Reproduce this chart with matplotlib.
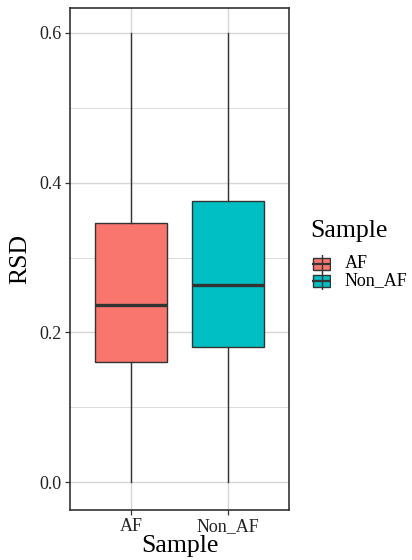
import matplotlib
matplotlib.use("Agg")
import matplotlib.pyplot as plt
from matplotlib.patches import Rectangle
from matplotlib.lines import Line2D

plt.rcParams['font.family'] = ['Liberation Serif', 'DejaVu Serif']

categories = ["AF", "Non_AF"]
whisker_low = [0.0, 0.0]
q1 = [0.160, 0.180]
median = [0.236, 0.263]
q3 = [0.346, 0.375]
whisker_high = [0.6, 0.6]
colors = ["#F8766D", "#00BFC4"]
yticks = [0.0, 0.2, 0.4, 0.6]
ytick_labels = ["0.0", "0.2", "0.4", "0.6"]
minor_yticks = [0.1, 0.3, 0.5]

W, H = 412, 560
fig = plt.figure(figsize=(W / 100, H / 100), dpi=100)
left, right, top, bottom = 70, 289, 8, 510
ax = fig.add_axes([left / W, 1 - bottom / H, (right - left) / W, (bottom - top) / H])

grid_c = "#d6d6d6"
for y in yticks:
    ax.axhline(y, color=grid_c, lw=1.0, zorder=0)
for y in minor_yticks:
    ax.axhline(y, color=grid_c, lw=0.6, zorder=0)
for x in [1, 2]:
    ax.axvline(x, color=grid_c, lw=1.0, zorder=0)

stats = []
for i, c in enumerate(categories):
    stats.append(dict(label=c, whislo=whisker_low[i], q1=q1[i], med=median[i],
                      q3=q3[i], whishi=whisker_high[i], fliers=[]))
bp = ax.bxp(stats, positions=[1, 2], widths=0.75, patch_artist=True, showcaps=False,
            boxprops=dict(edgecolor="#333333", linewidth=1.0),
            whiskerprops=dict(color="#333333", linewidth=1.0),
            medianprops=dict(color="#333333", linewidth=2.4, solid_capstyle="butt"),
            zorder=2)
for patch, col in zip(bp['boxes'], colors):
    patch.set_facecolor(col)

ax.set_xlim(0.37, 2.63)
ax.set_ylim(-0.037, 0.633)
ax.set_yticks(yticks)
ax.set_yticklabels(ytick_labels)
ax.set_xticks([1, 2])
ax.set_xticklabels(categories)
ax.tick_params(axis='both', labelsize=13, colors="#333333", labelcolor="#222222",
               length=3.5, width=0.9, pad=2.5)
for s in ax.spines.values():
    s.set_color("#333333")
    s.set_linewidth(1.2)
ax.set_xlabel("Sample", fontsize=18.5, labelpad=0)
ax.set_ylabel("RSD", fontsize=18.5, labelpad=6)

# legend
fig.text(310 / W, 1 - 231 / H, "Sample", fontsize=18.5, va="center", ha="left")
key_y = [264, 281]
for i, c in enumerate(categories):
    kx0, ky = 312, key_y[i]
    kax = fig.add_axes([kx0 / W, 1 - (ky + 9) / H, 19 / W, 18 / H])
    kax.set_xlim(0, 1)
    kax.set_ylim(0, 1)
    kax.axis("off")
    kax.add_line(Line2D([0.5, 0.5], [0.0, 1.0], color="#333333", lw=1.0))
    kax.add_patch(Rectangle((0.05, 0.17), 0.9, 0.66, facecolor=colors[i],
                            edgecolor="#333333", lw=1.0))
    kax.add_line(Line2D([0.05, 0.95], [0.5, 0.5], color="#333333", lw=1.6))
    fig.text(345 / W, 1 - ky / H, c, fontsize=13, va="center", ha="left")

fig.savefig("out.png", dpi=100)
